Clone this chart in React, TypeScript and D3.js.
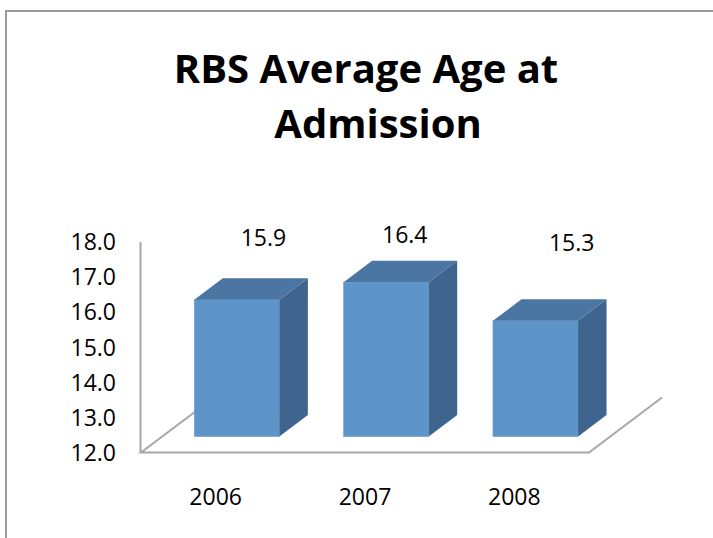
import React from "react";
import * as d3 from "d3";

// Average age at admission per year
const years: string[] = ["2006", "2007", "2008"];
const avgAge: number[] = [15.9, 16.4, 15.3];
const yTicks: number[] = [12, 13, 14, 15, 16, 17, 18];
const titleLines: string[] = ["RBS Average Age at", "Admission"];

const W = 713;
const H = 538;
const FONT = "'Open Sans', 'DejaVu Sans', sans-serif";

// Front plane of the 3D floor
const floorLeft = 141;
const floorRight = 589;
// Oblique depth vector of the floor (front edge -> back edge)
const depth: [number, number] = [73, -55];
const barT0 = 0.29; // bar front face depth fraction
const barT1 = 0.68; // bar back face depth fraction

const x = d3
  .scaleBand<string>()
  .domain(years)
  .range([floorLeft, floorRight])
  .paddingInner(0.43)
  .paddingOuter(0.215);

const xCat = d3.scaleBand<string>().domain(years).range([floorLeft, floorRight]).padding(0);

const y = d3.scaleLinear().domain([12, 18]).range([452.5, 242]);

// Data label placement in the oblique projection
const labelDx = d3.scaleLinear().domain([12, 18]).range([89, -7]);
const labelY = d3.scaleLinear().domain([12, 18]).range([275, 231]);

const FRONT = "#5e95c9";
const TOP = "#4b76a4";
const SIDE = "#3f658f";
const GRID = "#a6a6a6";

function pts(p: [number, number][]) {
  return p.map((d) => d.join(",")).join(" ");
}

export default function App() {
  const y0 = y(12);
  const fdx = depth[0] * barT0;
  const fdy = depth[1] * barT0;
  const bdx = depth[0] * (barT1 - barT0);
  const bdy = depth[1] * (barT1 - barT0);

  return (
    <div style={{ position: "absolute", left: 0, top: 0 }}>
      <svg width={W} height={H} style={{ display: "block", background: "#fff" }}>
        {/* chart frame */}
        <path d={`M6,${H} V11 H${W}`} fill="none" stroke="#9c9c9c" strokeWidth={2} />

        {/* title */}
        {titleLines.map((t, i) => (
          <text
            key={t}
            x={i === 0 ? 366 : 378}
            y={83 + i * 55}
            textAnchor="middle"
            fontFamily={FONT}
            fontWeight="bold"
            fontSize={40}
            fill="#000"
          >
            {t}
          </text>
        ))}

        {/* floor */}
        <path
          d={`M${floorLeft + depth[0]},${y0 + depth[1]} L${floorLeft},${y0} L${floorRight},${y0} L${floorRight + depth[0]},${y0 + depth[1]}`}
          fill="none"
          stroke={GRID}
          strokeWidth={2}
        />
        {/* value axis edge */}
        <line x1={floorLeft - 0.5} x2={floorLeft - 0.5} y1={y(18)} y2={y0} stroke={GRID} strokeWidth={2} />

        {/* y tick labels */}
        {yTicks.map((t) => (
          <text
            key={t}
            x={116}
            y={y(t)}
            dy="0.36em"
            textAnchor="end"
            fontFamily={FONT}
            fontSize={23}
            fill="#000"
          >
            {d3.format(".1f")(t)}
          </text>
        ))}

        {/* bars */}
        {years.map((yr, i) => {
          const v = avgAge[i];
          const xl = (x(yr) as number) + fdx;
          const xr = xl + x.bandwidth();
          const yb = y0 + fdy;
          const yt = y(v) + fdy;
          return (
            <g key={yr}>
              <rect x={xl} y={yt} width={xr - xl} height={yb - yt} fill={FRONT} stroke="#6a9fd0" strokeWidth={0.6} />
              <polygon
                points={pts([
                  [xl, yt],
                  [xl + bdx, yt + bdy],
                  [xr + bdx, yt + bdy],
                  [xr, yt],
                ])}
                fill={TOP}
              />
              <polygon
                points={pts([
                  [xr, yt],
                  [xr + bdx, yt + bdy],
                  [xr + bdx, yb + bdy],
                  [xr, yb],
                ])}
                fill={SIDE}
              />
            </g>
          );
        })}

        {/* value labels */}
        {years.map((yr, i) => {
          const v = avgAge[i];
          const cx = (x(yr) as number) + fdx + x.bandwidth() / 2 + labelDx(v);
          return (
            <text key={yr} x={cx} y={labelY(v)} textAnchor="middle" fontFamily={FONT} fontSize={23} fill="#000">
              {d3.format(".1f")(v)}
            </text>
          );
        })}

        {/* category labels */}
        {years.map((yr) => (
          <text
            key={yr}
            x={(xCat(yr) as number) + xCat.bandwidth() / 2}
            y={505}
            textAnchor="middle"
            fontFamily={FONT}
            fontSize={23}
            fill="#000"
          >
            {yr}
          </text>
        ))}
      </svg>
    </div>
  );
}
